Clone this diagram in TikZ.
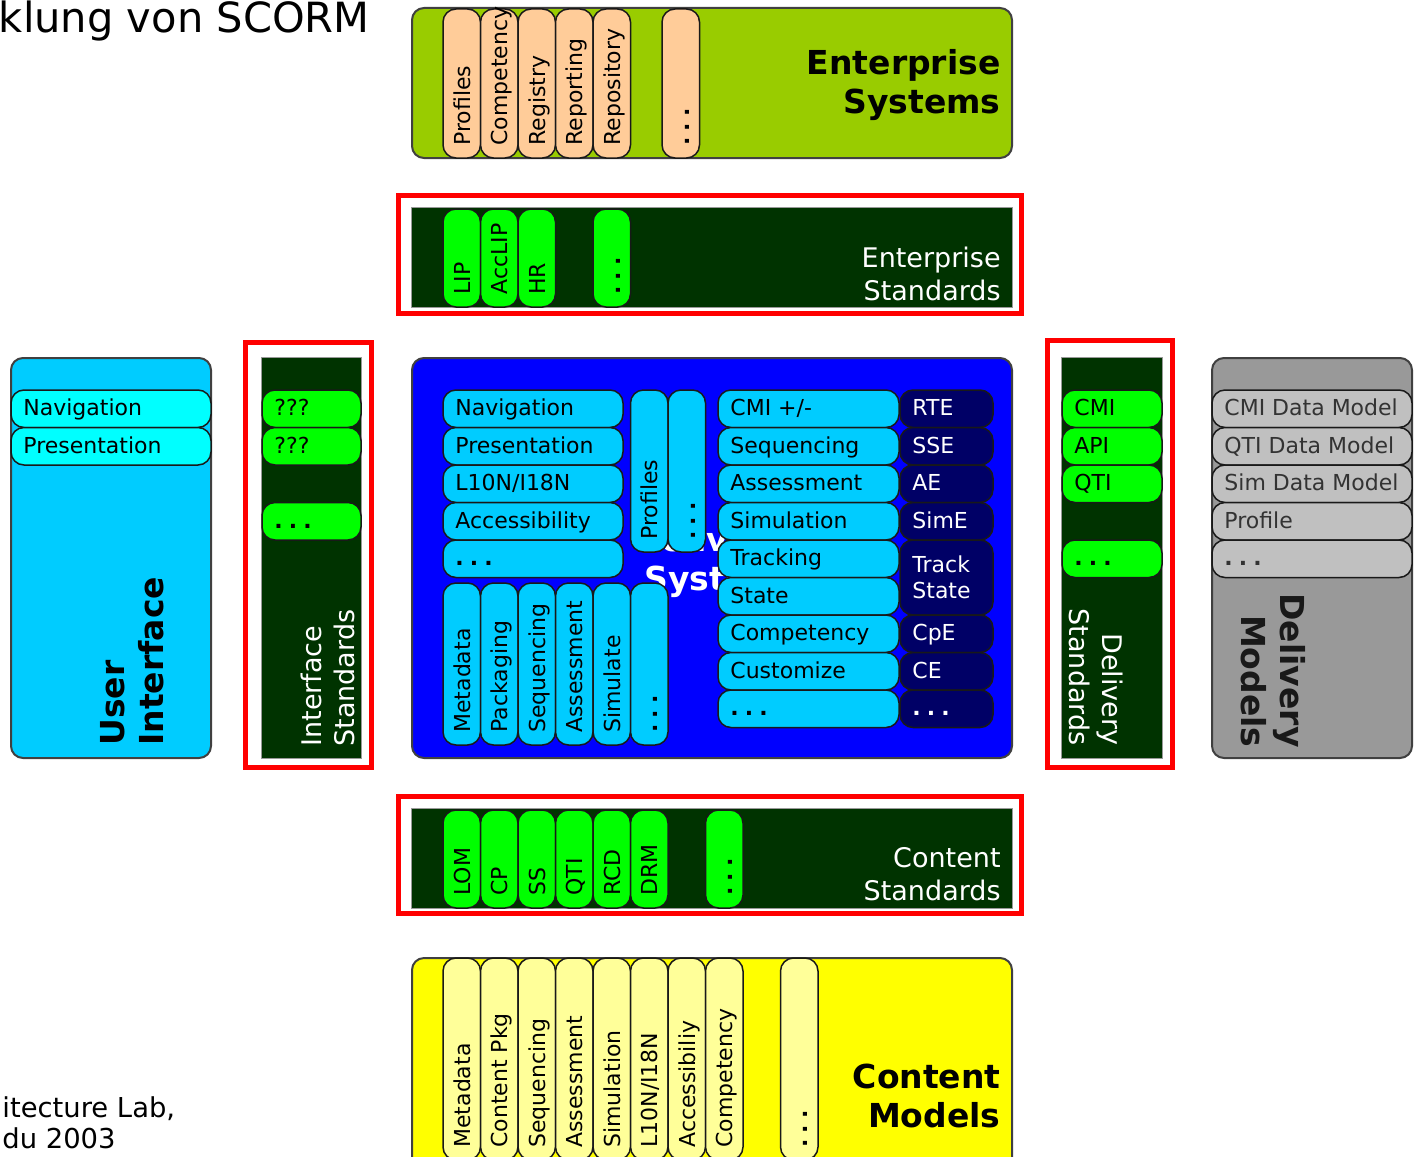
\documentclass[tikz,border=0pt]{standalone}
\usepackage{fontspec}
\setmainfont{DejaVu Sans}
\definecolor{esgreen}{HTML}{99CC00}
\definecolor{peach}{HTML}{FFCC99}
\definecolor{dkgreen}{HTML}{003300}
\definecolor{lgreen}{HTML}{00FF00}
\definecolor{uiblue}{HTML}{00CCFF}
\definecolor{cyanp}{HTML}{00FFFF}
\definecolor{blueb}{HTML}{0000FF}
\definecolor{navyp}{HTML}{000066}
\definecolor{grayb}{HTML}{999999}
\definecolor{grayp}{HTML}{C0C0C0}
\definecolor{yelb}{HTML}{FFFF00}
\definecolor{yelp}{HTML}{FFFF99}
\definecolor{redf}{HTML}{FF0000}
\definecolor{txtgray}{HTML}{333333}
\tikzset{
  bigbox/.style={draw=black!75, line width=1pt, rounded corners=6pt},
  stdbox/.style={draw=black!40, line width=0.5pt, fill=dkgreen},
  redframe/.style={draw=redf, line width=2.5pt},
  pill/.style={draw=black!90, line width=0.75pt, rounded corners=6.5pt},
  ptext/.style={inner sep=0pt, font=\fontsize{11pt}{13pt}\selectfont},
  btitle/.style={inner sep=0pt, font=\fontsize{16.5pt}{19.5pt}\selectfont\bfseries},
  rtitle/.style={inner sep=0pt, font=\fontsize{13.5pt}{16.5pt}\selectfont, text=white},
}
\newcommand\dts{{\bfseries .\hspace{0.28em}.\hspace{0.28em}.}}
% horizontal pill: name, fill, x, y, w, h, text, textcolour
\newcommand\hp[8]{%
  \filldraw[pill,fill=#2] (#3,#4) rectangle ++(#5,#6);
  \node[ptext,text=#8,anchor=base west] (#1) at ({#3+12},{#4+25.5}) {#7};}
% vertical pill: name, fill, x, y, w, h, text, textcolour
\newcommand\vp[8]{%
  \filldraw[pill,fill=#2] (#3,#4) rectangle ++(#5,#6);
  \node[ptext,text=#8,rotate=90,anchor=base west] (#1) at ({#3+27},{#4+#6-12}) {#7};}
\begin{document}
\begin{tikzpicture}[x=0.5pt,y=-0.5pt]
\useasboundingbox (0,0) rectangle (1416,1156);
\clip (0,0) rectangle (1416,1156);
\fill[white] (0,0) rectangle (1416,1156);

% ---------- page texts ----------
\node[inner sep=0pt, anchor=base east, font=\fontsize{20.8pt}{24pt}\selectfont] (title) at (370,33) {klung von SCORM};
\node[inner sep=0pt, anchor=base west, font=\fontsize{13.7pt}{16pt}\selectfont] (foota) at (2,1117) {itecture Lab,};
\node[inner sep=0pt, anchor=base west, font=\fontsize{13.7pt}{16pt}\selectfont] (footb) at (2,1148) {du 2003};

% ---------- Enterprise Systems ----------
\filldraw[bigbox, fill=esgreen] (412,8) rectangle (1012,158);
\vp{es1}{peach}{443}{9}{37.5}{149}{Profiles}{black}
\vp{es2}{peach}{480.5}{9}{37.5}{149}{Competency}{black}
\vp{es3}{peach}{518}{9}{37.5}{149}{Registry}{black}
\vp{es4}{peach}{555.5}{9}{37.5}{149}{Reporting}{black}
\vp{es5}{peach}{593}{9}{37.5}{149}{Repository}{black}
\vp{es6}{peach}{662}{9}{37.5}{149}{\dts}{black}
\node[btitle, align=right, anchor=south east] (estitle) at (1001,121) {Enterprise\\Systems};

% ---------- Enterprise Standards ----------
\draw[redframe] (398.5,195.5) rectangle (1021.5,313);
\filldraw[stdbox] (411,207) rectangle (1012,307);
\vp{est1}{lgreen}{443}{209}{37.5}{98}{LIP}{black}
\vp{est2}{lgreen}{480.5}{209}{37.5}{98}{AccLIP}{black}
\vp{est3}{lgreen}{518}{209}{37.5}{98}{HR}{black}
\vp{est4}{lgreen}{593}{209}{37.5}{98}{\dts}{black}
\node[rtitle, align=right, anchor=south east] (esttitle) at (1001,301) {Enterprise\\Standards};

% ---------- User Interface ----------
\filldraw[bigbox, fill=uiblue] (11,358) rectangle (211,758);
\hp{ui1}{cyanp}{11}{390}{200}{37.5}{Navigation}{black}
\hp{ui2}{cyanp}{11}{427.5}{200}{37.5}{Presentation}{black}
\node[btitle, rotate=90, align=left, anchor=south west] (uititle) at (164,746) {User\\Interface};

% ---------- Interface Standards ----------
\draw[redframe] (245.5,342.5) rectangle (371.5,767.5);
\filldraw[stdbox] (261,357) rectangle (361,758);
\hp{is1}{lgreen}{262}{390}{99}{37.5}{???}{black}
\hp{is2}{lgreen}{262}{427.5}{99}{37.5}{???}{black}
\hp{is3}{lgreen}{262}{502.5}{99}{37.5}{\dts}{black}
\node[rtitle, rotate=90, align=left, anchor=south west] (istitle) at (355,747) {Interface\\Standards};

% ---------- Delivery Systems ----------
\filldraw[bigbox, fill=blueb] (412,358) rectangle (1012,758);
\node[btitle, text=white, align=left, anchor=south west] (dstitle) at (634,598) {Delivery\\\hspace*{5pt}Systems};
\hp{dl1}{uiblue}{443}{390}{180}{37.5}{Navigation}{black}
\hp{dl2}{uiblue}{443}{427.5}{180}{37.5}{Presentation}{black}
\hp{dl3}{uiblue}{443}{465}{180}{37.5}{L10N/I18N}{black}
\hp{dl4}{uiblue}{443}{502.5}{180}{37.5}{Accessibility}{black}
\hp{dl5}{uiblue}{443}{540}{180}{37.5}{\dts}{black}
\vp{dp1}{uiblue}{630.5}{390}{37.5}{162}{Profiles}{black}
\vp{dp2}{uiblue}{668}{390}{37.5}{162}{\dts}{black}
\vp{db1}{uiblue}{443}{583}{37.5}{162}{Metadata}{black}
\vp{db2}{uiblue}{480.5}{583}{37.5}{162}{Packaging}{black}
\vp{db3}{uiblue}{518}{583}{37.5}{162}{Sequencing}{black}
\vp{db4}{uiblue}{555.5}{583}{37.5}{162}{Assessment}{black}
\vp{db5}{uiblue}{593}{583}{37.5}{162}{Simulate}{black}
\vp{db6}{uiblue}{630.5}{583}{37.5}{162}{\dts}{black}
\hp{dr1}{uiblue}{718}{390}{181}{37.5}{CMI +/-}{black}
\hp{dr2}{uiblue}{718}{427.5}{181}{37.5}{Sequencing}{black}
\hp{dr3}{uiblue}{718}{465}{181}{37.5}{Assessment}{black}
\hp{dr4}{uiblue}{718}{502.5}{181}{37.5}{Simulation}{black}
\hp{dr5}{uiblue}{718}{540}{181}{37.5}{Tracking}{black}
\hp{dr6}{uiblue}{718}{577.5}{181}{37.5}{State}{black}
\hp{dr7}{uiblue}{718}{615}{181}{37.5}{Competency}{black}
\hp{dr8}{uiblue}{718}{652.5}{181}{37.5}{Customize}{black}
\hp{dr9}{uiblue}{718}{690}{181}{37.5}{\dts}{black}
\hp{dn1}{navyp}{900}{390}{93}{37.5}{RTE}{white}
\hp{dn2}{navyp}{900}{427.5}{93}{37.5}{SSE}{white}
\hp{dn3}{navyp}{900}{465}{93}{37.5}{AE}{white}
\hp{dn4}{navyp}{900}{502.5}{93}{37.5}{SimE}{white}
\filldraw[pill,fill=navyp] (900,540) rectangle ++(93,75);
\node[ptext,text=white,align=left,anchor=north west] (dn5) at (912,555.5) {Track\\State};
\hp{dn6}{navyp}{900}{615}{93}{37.5}{CpE}{white}
\hp{dn7}{navyp}{900}{652.5}{93}{37.5}{CE}{white}
\hp{dn8}{navyp}{900}{690}{93}{37.5}{\dts}{white}

% ---------- Delivery Standards ----------
\draw[redframe] (1047.5,340.5) rectangle (1172.5,767.5);
\filldraw[stdbox] (1061,357) rectangle (1162,758);
\hp{ds1}{lgreen}{1062}{390}{100}{37.5}{CMI}{black}
\hp{ds2}{lgreen}{1062}{427.5}{100}{37.5}{API}{black}
\hp{ds3}{lgreen}{1062}{465}{100}{37.5}{QTI}{black}
\hp{ds4}{lgreen}{1062}{540}{100}{37.5}{\dts}{black}
\node[rtitle, rotate=-90, align=right, anchor=south east] (dsttitle) at (1069,746) {Delivery\\Standards};

% ---------- Delivery Models ----------
\filldraw[bigbox, fill=grayb] (1212,358) rectangle (1412,758);
\hp{dm1}{grayp}{1212}{390}{200}{37.5}{CMI Data Model}{txtgray}
\hp{dm2}{grayp}{1212}{427.5}{200}{37.5}{QTI Data Model}{txtgray}
\hp{dm3}{grayp}{1212}{465}{200}{37.5}{Sim Data Model}{txtgray}
\hp{dm4}{grayp}{1212}{502.5}{200}{37.5}{Profile}{txtgray}
\hp{dm5}{grayp}{1212}{540}{200}{37.5}{\dts}{txtgray}
\node[btitle, text=black!90, rotate=-90, align=right, anchor=south east] (dmtitle) at (1241,748) {Delivery\\Models};

% ---------- Content Standards ----------
\draw[redframe] (398.5,796.5) rectangle (1021.5,913.5);
\filldraw[stdbox] (411,808) rectangle (1012,908);
\vp{cs1}{lgreen}{443}{810}{37.5}{98}{LOM}{black}
\vp{cs2}{lgreen}{480.5}{810}{37.5}{98}{CP}{black}
\vp{cs3}{lgreen}{518}{810}{37.5}{98}{SS}{black}
\vp{cs4}{lgreen}{555.5}{810}{37.5}{98}{QTI}{black}
\vp{cs5}{lgreen}{593}{810}{37.5}{98}{RCD}{black}
\vp{cs6}{lgreen}{630.5}{810}{37.5}{98}{DRM}{black}
\vp{cs7}{lgreen}{705.5}{810}{37.5}{98}{\dts}{black}
\node[rtitle, align=right, anchor=south east] (csttitle) at (1001,901) {Content\\Standards};

% ---------- Content Models ----------
\filldraw[bigbox, fill=yelb] (412,958) rectangle (1012,1185);
\vp{cm1}{yelp}{443}{958}{37.5}{202}{Metadata}{black}
\vp{cm2}{yelp}{480.5}{958}{37.5}{202}{Content Pkg}{black}
\vp{cm3}{yelp}{518}{958}{37.5}{202}{Sequencing}{black}
\vp{cm4}{yelp}{555.5}{958}{37.5}{202}{Assessment}{black}
\vp{cm5}{yelp}{593}{958}{37.5}{202}{Simulation}{black}
\vp{cm6}{yelp}{630.5}{958}{37.5}{202}{L10N/I18N}{black}
\vp{cm7}{yelp}{668}{958}{37.5}{202}{Accessibiliy}{black}
\vp{cm8}{yelp}{705.5}{958}{37.5}{202}{Competency}{black}
\vp{cm9}{yelp}{780.5}{958}{37.5}{202}{\dts}{black}
\node[btitle, align=right, anchor=south east] (cmtitle) at (1001,1128) {Content\\Models};
\end{tikzpicture}
\end{document}
